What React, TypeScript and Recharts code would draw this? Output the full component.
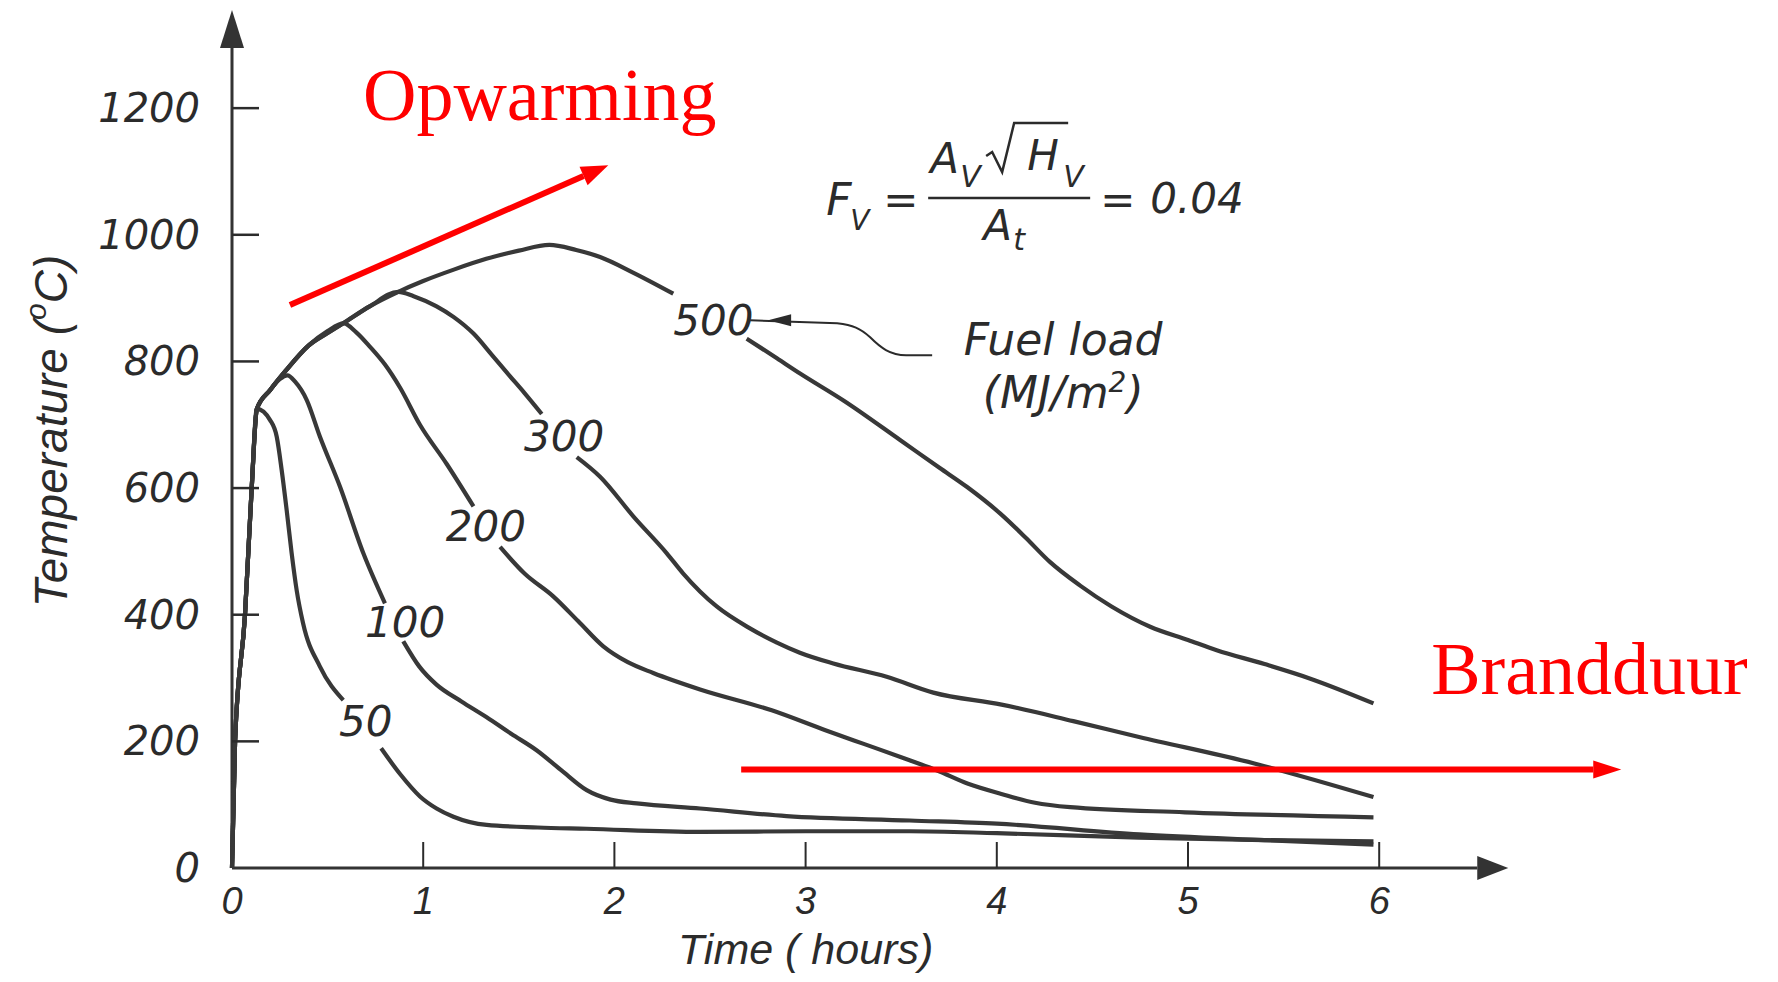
import { Line, LineChart, ReferenceDot, ReferenceLine, XAxis, YAxis } from 'recharts';

// axis ticks
const timeTicks = [0, 1, 2, 3, 4, 5, 6];
const tempTicks = [0, 200, 400, 600, 800, 1000, 1200];

// [time (h), temperature (C)]; null = where the curve label sits
const heating = [[0, 0], [0.016, 200], [0.068, 400], [0.103, 600], [0.13, 725]];

const load50 = [
  [0.2, 707], [0.234, 681], [0.26, 628], [0.286, 565], [0.312, 497], [0.338, 439], [0.372, 386],
  [0.46, 318], [0.582, 265], [0.68, null], [0.78, 189], [0.88, 148], [0.983, 113], [1.07, 94],
  [1.158, 81], [1.332, 68], [1.6, 64], [1.855, 62], [2.448, 57], [3.0, 58], [3.545, 58], [4.0, 55],
  [4.745, 48], [5.4, 44], [5.97, 42],
];
const load100 = [
  [0.2, 755], [0.25, 772], [0.29, 778], [0.33, 768], [0.391, 739], [0.46, 681], [0.565, 602],
  [0.687, 497], [0.8, 418], [0.85, null], [0.896, 358], [0.98, 318], [1.068, 290], [1.2, 263],
  [1.332, 238], [1.46, 212], [1.593, 186], [1.72, 155], [1.855, 123], [1.98, 108], [2.117, 102],
  [2.448, 94], [2.9, 82], [3.545, 75], [4.0, 70], [4.745, 53], [5.4, 44], [5.97, 37],
];
const load200 = [
  [0.2, 755], [0.28, 785], [0.4, 825], [0.5, 848], [0.584, 860], [0.65, 846], [0.722, 823],
  [0.8, 795], [0.88, 758], [0.983, 700], [1.123, 638], [1.263, 571], [1.33, null], [1.402, 507],
  [1.53, 465], [1.68, 429], [1.81, 390], [1.942, 350], [2.07, 325], [2.203, 308], [2.448, 282],
  [2.823, 249], [3.1, 218], [3.304, 196], [3.5, 175], [3.688, 154], [3.85, 133], [4.024, 117],
  [4.2, 103], [4.384, 96], [4.985, 88], [5.97, 80],
];
const load300 = [
  [0.2, 755], [0.28, 785], [0.4, 825], [0.5, 845], [0.58, 860], [0.72, 887], [0.87, 910],
  [0.95, 903], [1.07, 887], [1.16, 870], [1.263, 844], [1.36, 810], [1.45, 778], [1.53, 750],
  [1.62, 717], [1.7, null], [1.803, 649], [1.925, 618], [2.1, 555], [2.274, 497], [2.36, 465],
  [2.535, 413], [2.7, 380], [2.85, 356], [2.97, 340], [3.145, 323], [3.424, 302], [3.668, 277],
  [4.025, 258], [4.4, 232], [4.744, 207], [5.347, 165], [5.97, 112],
];
const load500 = [
  [0.2, 755], [0.28, 785], [0.4, 825], [0.5, 845], [0.58, 860], [0.72, 887], [0.87, 910],
  [1.0, 927], [1.16, 945], [1.33, 962], [1.5, 975], [1.66, 984], [1.8, 976], [1.925, 965],
  [2.1, 940], [2.308, 907], [2.5, null], [2.692, 836], [2.85, 805], [2.971, 781], [3.2, 738],
  [3.494, 676], [3.7, 632], [3.843, 602], [4.017, 560], [4.15, 522], [4.279, 483], [4.436, 446],
  [4.6, 413], [4.802, 381], [5.0, 360], [5.15, 344], [5.4, 322], [5.64, 299], [5.97, 260],
];

const fuelLoads = ['50', '100', '200', '300', '500'];
const fuelTails = [load50, load100, load200, load300, load500];
// where each fuel load number is written on its curve
const labelSpots = [[0.7, 232], [0.905, 388], [1.328, 539], [1.737, 681], [2.518, 864]];

const FONT = '"DejaVu Sans", sans-serif';
const SANS = '"Liberation Sans", Arial, sans-serif';
const SERIF = '"Liberation Serif", "Times New Roman", serif';
const INK = '#2b2b2b';
const RED = '#ff0000';

const series = fuelLoads.map((name, i) => ({
  name,
  data: [...heating, ...fuelTails[i]].map(([t, v]) => ({ t, v })),
}));

const arrowShape = (color: string, width: number, headLen: number, headHalf: number) => (p: any) => {
  const { x1, y1, x2, y2 } = p;
  const a = Math.atan2(y2 - y1, x2 - x1);
  const bx = x2 - headLen * Math.cos(a);
  const by = y2 - headLen * Math.sin(a);
  const nx = -Math.sin(a) * headHalf;
  const ny = Math.cos(a) * headHalf;
  return (
    <g>
      <line x1={x1} y1={y1} x2={bx} y2={by} stroke={color} strokeWidth={width} />
      <polygon points={`${x2},${y2} ${bx + nx},${by + ny} ${bx - nx},${by - ny}`} fill={color} />
    </g>
  );
};

const XTick = ({ x, y, payload }: any) => (
  <g>
    {payload.value > 0 && <line x1={x} y1={y} x2={x} y2={y - 26} stroke={INK} strokeWidth={2} />}
    <text x={x} y={y + 33} textAnchor='middle' dominantBaseline='central' fontFamily={SANS}
      fontStyle='italic' fontSize={38} fill={INK}>
      {payload.value}
    </text>
  </g>
);

const YTick = ({ x, y, payload }: any) => (
  <g>
    {payload.value > 0 && <line x1={x} y1={y} x2={x + 27} y2={y} stroke={INK} strokeWidth={2.5} />}
    <text x={x - 32} y={y} textAnchor='end' dominantBaseline='central' fontFamily={FONT}
      fontStyle='italic' fontSize={40} fill={INK}>
      {payload.value}
    </text>
  </g>
);

const YTitle = ({ viewBox }: any) => {
  const cx = viewBox.x + 43;
  const cy = viewBox.y + viewBox.height / 2 - 8;
  return (
    <text x={cx} y={cy} transform={`rotate(-90, ${cx}, ${cy})`} textAnchor='middle'
      dominantBaseline='central' fontFamily={SANS} fontStyle='italic' fontSize={46} fill={INK}>
      Temperature (<tspan dy={-16} fontSize={30}>o</tspan><tspan dy={16}>C)</tspan>
    </text>
  );
};

const textShape = (content: string, opts: any) => ({ cx, cy }: any) => (
  <text x={cx + (opts.dx || 0)} y={cy + (opts.dy || 0)} textAnchor={opts.anchor || 'middle'}
    dominantBaseline={opts.baseline || 'central'} fontFamily={opts.family || FONT}
    fontStyle={opts.style || 'italic'} fontSize={opts.size} fill={opts.color || INK}>
    {content}
  </text>
);

const CurveLabel = ({ cx, cy, value }: any) => (
  <text x={cx} y={cy} textAnchor='middle' dominantBaseline='central' fontFamily={FONT}
    fontStyle='italic' fontSize={42} fill={INK}>
    {value}
  </text>
);

const FormulaShape = ({ cx, cy }: any) => {
  const t = { fontFamily: FONT, fontStyle: 'italic', fill: INK };
  return (
    <g>
      <text x={cx - 102} y={cy + 17} fontSize={44} {...t}>F</text>
      <text x={cx - 78} y={cy + 32} fontSize={28} {...t}>V</text>
      <text x={cx - 45} y={cy + 16} fontSize={42} {...t}>=</text>
      <text x={cx + 2} y={cy - 25} fontSize={42} {...t}>A</text>
      <text x={cx + 32} y={cy - 11} fontSize={30} {...t}>V</text>
      <path d={`M${cx + 58},${cy - 42} l6,-4 l10,20 l12,-49 h54`} fill='none' stroke={INK} strokeWidth={2.5} />
      <text x={cx + 99} y={cy - 28} fontSize={42} {...t}>H</text>
      <text x={cx + 135} y={cy - 11} fontSize={30} {...t}>V</text>
      <line x1={cx} y1={cy} x2={cx + 162} y2={cy} stroke={INK} strokeWidth={2.5} />
      <text x={cx + 55} y={cy + 42} fontSize={42} {...t}>A</text>
      <text x={cx + 85} y={cy + 52} fontSize={30} {...t}>t</text>
      <text x={cx + 172} y={cy + 16} fontSize={42} {...t}>=</text>
      <text x={cx + 222} y={cy + 15} fontSize={42} {...t}>0.04</text>
    </g>
  );
};

const FuelLoadNote = ({ cx, cy }: any) => (
  <g>
    <path d={`M${cx},${cy} L${cx + 87},${cy + 3} C${cx + 103},${cy + 5} ${cx + 110},${cy + 8} ${cx + 120},${cy + 17} C${cx + 130},${cy + 27} ${cx + 140},${cy + 35} ${cx + 156},${cy + 35} L${cx + 182},${cy + 35}`}
      fill='none' stroke={INK} strokeWidth={2} />
    <polygon points={`${cx + 18},${cy} ${cx + 41},${cy - 6} ${cx + 41},${cy + 6}`} fill={INK} />
    <text x={cx + 313} y={cy + 35} textAnchor='middle' fontFamily={FONT} fontStyle='italic' fontSize={44} fill={INK}>
      Fuel load
    </text>
    <text x={cx + 313} y={cy + 88} textAnchor='middle' fontFamily={FONT} fontStyle='italic' fontSize={44} fill={INK}>
      (MJ/m<tspan dy={-16} fontSize={28}>2</tspan><tspan dy={16}>)</tspan>
    </text>
  </g>
);

const App = () => {
  return (
    <LineChart width={1762} height={966} margin={{ top: 2, right: 104, bottom: 0, left: 0 }}>
      <XAxis type='number' dataKey='t' domain={[0, 7.5]} ticks={timeTicks} interval={0}
        axisLine={false} tickLine={false} tickSize={0} tickMargin={0} height={106} tick={<XTick />} />
      <YAxis type='number' domain={[0, 1355]} ticks={tempTicks} interval={0}
        axisLine={false} tickLine={false} tickSize={0} tickMargin={0} width={224} tick={<YTick />}
        label={<YTitle />} />

      {/* hand-drawn style axes with arrow tips */}
      <ReferenceLine segment={[{ x: 0, y: 0 }, { x: 0, y: 1355 }]} ifOverflow='visible'
        shape={arrowShape('#333', 3, 38, 12)} />
      <ReferenceLine segment={[{ x: 0, y: 0 }, { x: 6.675, y: 0 }]} ifOverflow='visible'
        shape={arrowShape('#333', 3, 31, 12)} />

      {series.map((s) => (
        <Line key={s.name} data={s.data} dataKey='v' name={s.name} type='monotone' stroke='#383838'
          strokeWidth={4.2} dot={false} activeDot={false} connectNulls={false} isAnimationActive={false} />
      ))}

      {fuelLoads.map((name, i) => (
        <ReferenceDot key={name} x={labelSpots[i][0]} y={labelSpots[i][1]} ifOverflow='visible'
          shape={(p: any) => <CurveLabel {...p} value={name} />} />
      ))}

      <ReferenceDot x={3} y={0} ifOverflow='visible'
        shape={textShape('Time ( hours)', { dy: 81, size: 43, family: SANS })} />

      <ReferenceDot x={3.641} y={1058} ifOverflow='visible' shape={FormulaShape} />
      <ReferenceDot x={2.71} y={865} ifOverflow='visible' shape={FuelLoadNote} />

      {/* red overlay: heating phase and fire duration */}
      <ReferenceLine segment={[{ x: 0.303, y: 889 }, { x: 1.968, y: 1110 }]} ifOverflow='visible'
        shape={arrowShape(RED, 6, 27, 10)} />
      <ReferenceLine segment={[{ x: 2.663, y: 155.5 }, { x: 7.266, y: 155.5 }]} ifOverflow='visible'
        shape={arrowShape(RED, 6, 28, 9)} />
      <ReferenceDot x={0.685} y={1181} ifOverflow='visible'
        shape={textShape('Opwarming', { anchor: 'start', baseline: 'alphabetic', size: 74, family: SERIF, style: 'normal', color: RED })} />
      <ReferenceDot x={6.272} y={274.7} ifOverflow='visible'
        shape={textShape('Brandduur', { anchor: 'start', baseline: 'alphabetic', size: 74, family: SERIF, style: 'normal', color: RED })} />
    </LineChart>
  );
};

export default App;
